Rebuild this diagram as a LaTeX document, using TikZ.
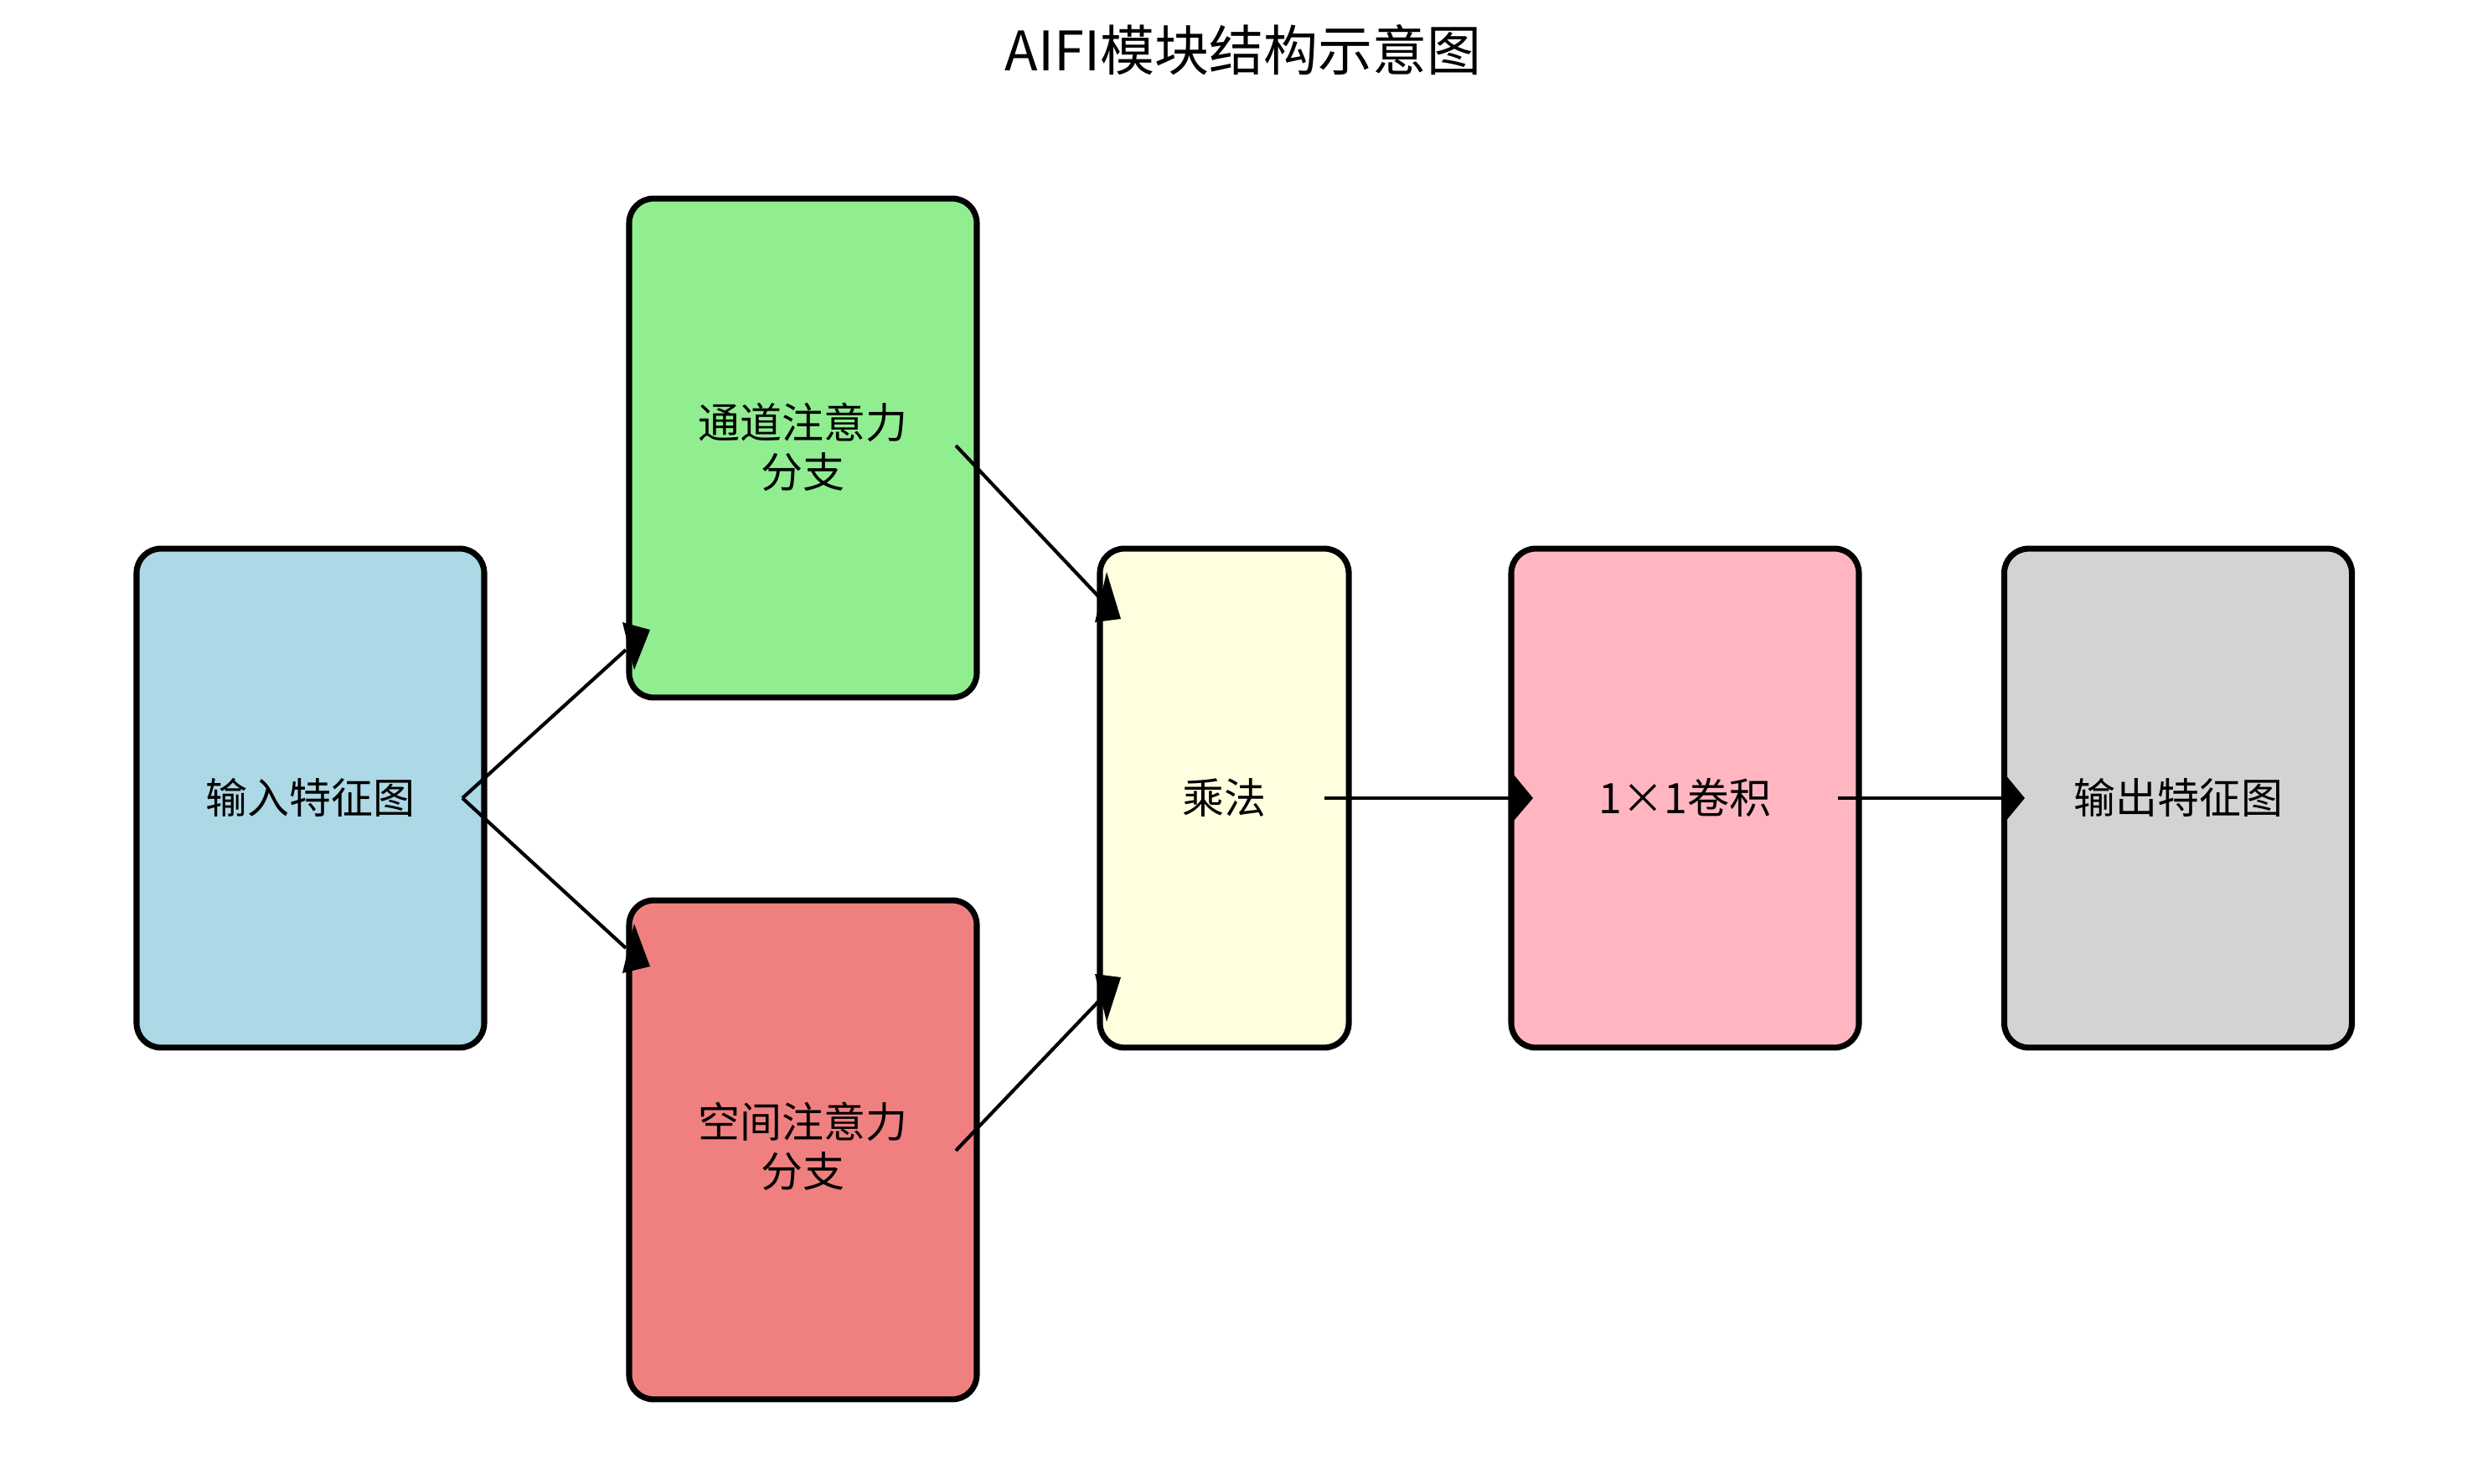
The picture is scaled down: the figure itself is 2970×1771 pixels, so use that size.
\documentclass[tikz,border=0pt]{standalone}
\usepackage{fontspec}
\setmainfont{Noto Sans CJK SC}
\begin{document}
\begin{tikzpicture}[x=0.24pt,y=-0.24pt,
  box/.style={draw=black,line width=1.7pt,rounded corners=7pt,minimum height=143pt,inner sep=0pt},
  wbox/.style={box,minimum width=99.6pt},
  lbl/.style={inner sep=0pt,align=center,font=\fontsize{12}{14.2}\selectfont},
  conn/.style={line width=1pt,line cap=butt},
  head/.style={fill=black,draw=none}]
\path[use as bounding box] (0,0) rectangle (2970,1771);
\node (title) at (1484,60) {\fontsize{15.6}{18}\selectfont AIFI模块结构示意图};
% boxes
\node[wbox,fill={rgb,255:red,173;green,216;blue,230}] (in) at (370.5,953) {};
\node[wbox,fill={rgb,255:red,144;green,238;blue,144}] (ch) at (958.5,535) {};
\node[wbox,fill={rgb,255:red,240;green,128;blue,128}] (sp) at (958.5,1373) {};
\node[box,minimum width=71.3pt,fill={rgb,255:red,255;green,255;blue,224}] (mul) at (1461.5,953) {};
\node[wbox,fill={rgb,255:red,255;green,182;blue,193}] (conv) at (2011.5,953) {};
\node[wbox,fill={rgb,255:red,211;green,211;blue,211}] (out) at (2600,953) {};
% labels
\node[lbl] (in-t) at (370.5,952) {输入特征图};
\node[lbl] (ch-t) at (958.5,534) {通道注意力\\分支};
\node[lbl] (sp-t) at (958.5,1369) {空间注意力\\分支};
\node[lbl] (mul-t) at (1461.5,952) {乘法};
\node[lbl] (conv-t) at (2011.5,952) {1×1卷积};
\node[lbl] (out-t) at (2600,952) {输出特征图};
% connector end points
\coordinate (s1) at (552,953);
\coordinate (e1) at (747,776);
\coordinate (e2) at (747,1132);
\coordinate (s3) at (1141,532);
\coordinate (e3) at (1312,713);
\coordinate (s4) at (1141,1374);
\coordinate (e4) at (1312,1195);
\coordinate (s5) at (1581,953);
\coordinate (e5) at (1812,953);
\coordinate (s6) at (2194,953);
\coordinate (e6) at (2398,953);
% connectors
\draw[conn] (s1) -- (e1);
\draw[conn] (s1) -- (e2);
\draw[conn] (s3) -- (e3);
\draw[conn] (s4) -- (e4);
\draw[conn] (s5) -- (e5);
\draw[conn] (s6) -- (e6);
% arrow heads
\fill[head] (743,743) -- (776,752) -- (757,800) -- cycle;
\fill[head] (743,1162) -- (776,1154) -- (757,1103) -- cycle;
\fill[head] (1307,743) -- (1338,739) -- (1321,683) -- cycle;
\fill[head] (1307,1163) -- (1338,1167) -- (1321,1220) -- cycle;
\fill[head] (1830,953) -- (1807,925) -- (1807,980) -- cycle;
\fill[head] (2417,953) -- (2393,924) -- (2393,982) -- cycle;
\end{tikzpicture}
\end{document}
